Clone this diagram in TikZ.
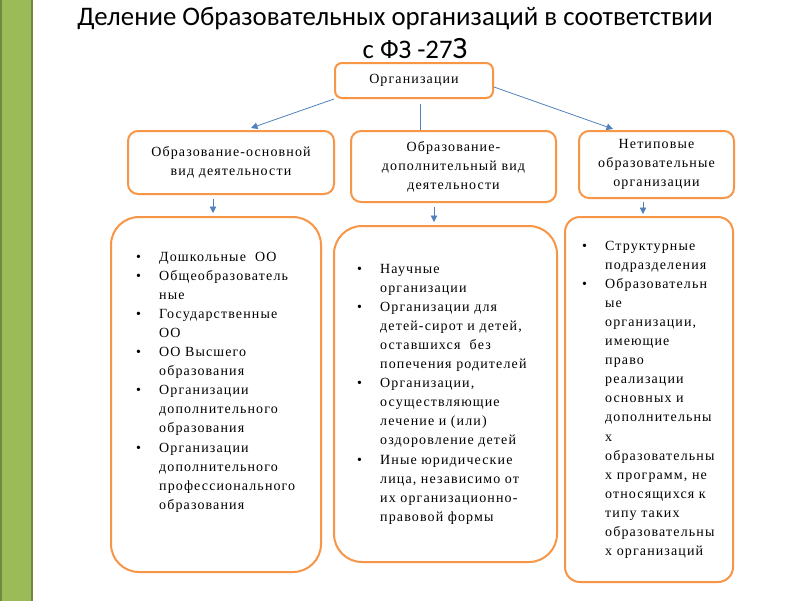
\documentclass[tikz,border=0pt]{standalone}
\usepackage{fontspec}
\setmainfont{Liberation Serif}
\newfontfamily\titlefont{Carlito}
\newfontfamily\bodyfont[LetterSpace=8]{Liberation Serif}
\usetikzlibrary{arrows.meta,calc}
\definecolor{orangeb}{HTML}{F79646}
\definecolor{arrblue}{HTML}{4F81BD}
\definecolor{greenbar}{HTML}{9BBB59}
\definecolor{greenedge}{HTML}{71893F}
\newcommand\bl{\makebox[23pt][l]{•}}
\tikzset{
 box/.style={draw=orangeb, line width=2pt, fill=white, inner sep=0pt, anchor=north west,
   font=\bodyfont\fontsize{14}{19}\selectfont, align=center},
 listtext/.style={font=\bodyfont\fontsize{14}{19.1}\selectfont, inner sep=0pt, anchor=base west},
 arr/.style={draw=arrblue, line width=0.8pt, -{Triangle[length=6.5pt,width=6.5pt]}},
 conn/.style={draw=arrblue, line width=0.8pt},
 titletext/.style={font=\titlefont\fontsize{26.8}{31}\selectfont, anchor=base, inner sep=0pt},
}
\begin{document}
\begin{tikzpicture}[x=1pt,y=-1pt]
\useasboundingbox (0,0) rectangle (800,600);
\fill[white] (0,0) rectangle (800,600);
\draw[fill=greenbar, draw=greenedge, line width=1.5pt] (0.75,-2) rectangle (32,602);

\node[titletext] (t1) at (395,25) {Деление Образовательных организаций в соответствии};
\node[titletext] (t2) at (415,58) {с ФЗ -27{\fontsize{31}{32}\selectfont З}};

\node[box, rounded corners=7pt, minimum width=158pt, minimum height=35pt] (org) at (334,62) {Организации};

\node[box, rounded corners=10pt, minimum width=206pt, minimum height=63pt] (L2) at (127,130) {Образование-основной\\вид деятельности};
\node[box, rounded corners=10pt, minimum width=205pt, minimum height=71pt] (M2) at (350,130) {Образование-\\дополнительный вид\\деятельности};
\node[box, rounded corners=10pt, minimum width=155pt, minimum height=67pt] (R2) at (578,130) {Нетиповые\\образовательные\\организации};

\node[box, rounded corners=28pt, minimum width=210pt, minimum height=355pt] (LL) at (110,216) {};
\node[box, rounded corners=28pt, minimum width=223pt, minimum height=336pt] (ML) at (333,225) {};
\node[box, rounded corners=15pt, minimum width=168pt, minimum height=365pt] (RL) at (564,216) {};

\node[listtext] (LLt) at (136,261) {\begin{tabular}[t]{@{}l@{}l@{}}
\bl & Дошкольные\ \ ОО\\
\bl & Общеобразователь\\
 & ные\\
\bl & Государственные\\
 & ОО\\
\bl & ОО Высшего\\
 & образования\\
\bl & Организации\\
 & дополнительного\\
 & образования\\
\bl & Организации\\
 & дополнительного\\
 & профессионального\\
 & образования
\end{tabular}};

\node[listtext] (MLt) at (357,273) {\begin{tabular}[t]{@{}l@{}l@{}}
\bl & Научные\\
 & организации\\
\bl & Организации для\\
 & детей-сирот и детей,\\
 & оставшихся\ \ без\\
 & попечения родителей\\
\bl & Организации,\\
 & осуществляющие\\
 & лечение и (или)\\
 & оздоровление детей\\
\bl & Иные юридические\\
 & лица, независимо от\\
 & их организационно-\\
 & правовой формы
\end{tabular}};

\node[listtext] (RLt) at (582,250) {\begin{tabular}[t]{@{}l@{}l@{}}
\bl & Структурные\\
 & подразделения\\
\bl & Образовательн\\
 & ые\\
 & организации,\\
 & имеющие\\
 & право\\
 & реализации\\
 & основных и\\
 & дополнительны\\
 & х\\
 & образовательны\\
 & х программ, не\\
 & относящихся к\\
 & типу таких\\
 & образовательны\\
 & х организаций
\end{tabular}};

\draw[arr] (org.south west) -- ($(L2.north)+(20,-2)$);
\draw[conn] ($(org.south)+(6,5)$) -- ($(M2.north)+(-33.5,0)$);
\draw[arr] ($(org.east)+(0,6.5)$) -- ($(R2.north)+(-43.5,-1)$);

\draw[arr] ($(L2.south)+(-18,4)$) -- ($(LL.north)+(-3,-3)$);
\draw[arr] ($(M2.south)+(-19.5,4)$) -- ($(ML.north)+(-11.5,-3)$);
\draw[arr] ($(R2.south)+(-13.5,3)$) -- ($(RL.north)+(-6,-2)$);
\end{tikzpicture}
\end{document}
